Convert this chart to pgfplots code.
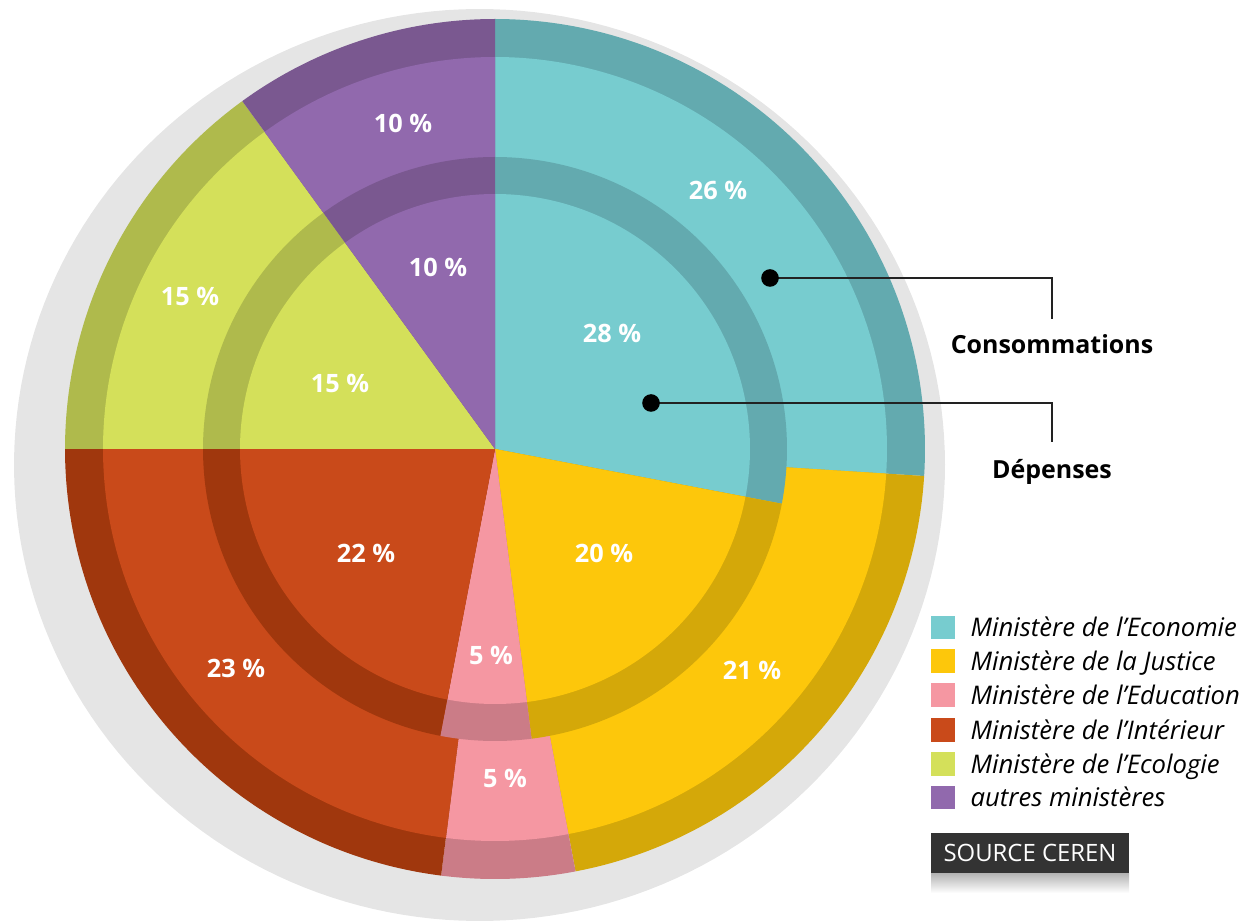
\documentclass[border=0pt]{standalone}
\usepackage{pgfplots}
\pgfplotsset{compat=1.18}
\usepackage{pgfplotstable}
\usepackage{fontspec}
\setmainfont{Open Sans}

\definecolor{c0}{HTML}{77CCCF}\definecolor{c0d}{HTML}{63AAAF}
\definecolor{c1}{HTML}{FDC70B}\definecolor{c1d}{HTML}{D4A809}
\definecolor{c2}{HTML}{F597A2}\definecolor{c2d}{HTML}{CB7C87}
\definecolor{c3}{HTML}{C94A1A}\definecolor{c3d}{HTML}{A0370D}
\definecolor{c4}{HTML}{D4E05A}\definecolor{c4d}{HTML}{AFBA4C}
\definecolor{c5}{HTML}{9169AD}\definecolor{c5d}{HTML}{7A5890}
\definecolor{bg}{HTML}{E5E5E5}
\definecolor{ink}{HTML}{222222}

% inner = Dépenses, outer = Consommations (percent); ix,iy / ox,oy = label positions
\pgfplotstableread{
name inner outer ix iy ox oy
Economie 28 26 612 590 718 733
Justice 20 21 604 370 752 253
Education 5 5 491 268 505 145
Interieur 22 23 366 370 236 255
Ecologie 15 15 340 540 190 627
Autres 10 10 438 656 403 800
}\data

\begin{document}
\begin{tikzpicture}
\begin{axis}[
  width=12.5cm, height=9.23cm, scale only axis,
  xmin=0, xmax=1250, ymin=0, ymax=923,
  hide axis, clip=false,
  /pgf/number format/assume math mode=true,
]
% background disc
\addplot[forget plot, fill=bg, draw=none, domain=0:360, samples=200, variable=\t]
  ({479.5+465.5*cos(\t)},{458+456*sin(\t)}) -- cycle;

% outer ring (Consommations)
\pgfmathsetmacro\cumO{0}
\pgfplotsforeachungrouped \i in {0,...,5}{%
  \pgfplotstablegetelem{\i}{outer}\of\data \let\vO\pgfplotsretval
  \pgfmathsetmacro\aS{90-3.6*\cumO}%
  \pgfmathsetmacro\aE{90-3.6*(\cumO+\vO)}%
  \pgfmathsetmacro\cumO{\cumO+\vO}%
  \edef\cmd{%
   \noexpand\addplot[forget plot, fill=c\i d, draw=none, domain=\aE:\aS, samples=90, variable=\noexpand\t]
     ({495+430*cos(\noexpand\t)},{474+430*sin(\noexpand\t)}) -- (axis cs:495,474) -- cycle;
   \noexpand\addplot[forget plot, fill=c\i, draw=none, domain=\aE:\aS, samples=90, variable=\noexpand\t]
     ({495+392*cos(\noexpand\t)},{474+392*sin(\noexpand\t)}) -- (axis cs:495,474) -- cycle;
  }\cmd
}
% inner pie (Dépenses)
\pgfmathsetmacro\cumI{0}
\pgfplotsforeachungrouped \i in {0,...,5}{%
  \pgfplotstablegetelem{\i}{inner}\of\data \let\vI\pgfplotsretval
  \pgfmathsetmacro\aS{90-3.6*\cumI}%
  \pgfmathsetmacro\aE{90-3.6*(\cumI+\vI)}%
  \pgfmathsetmacro\cumI{\cumI+\vI}%
  \edef\cmd{%
   \noexpand\addplot[forget plot, fill=c\i d, draw=none, domain=\aE:\aS, samples=90, variable=\noexpand\t]
     ({495+292*cos(\noexpand\t)},{474+292*sin(\noexpand\t)}) -- (axis cs:495,474) -- cycle;
   \noexpand\addplot[forget plot, fill=c\i, draw=none, domain=\aE:\aS, samples=90, variable=\noexpand\t]
     ({495+255*cos(\noexpand\t)},{474+255*sin(\noexpand\t)}) -- (axis cs:495,474) -- cycle;
  }\cmd
}

% percentage labels
\addplot[forget plot, only marks, mark=none, point meta=explicit,
  nodes near coords={\pgfmathprintnumber{\pgfplotspointmeta}~\%},
  every node near coord/.append style={anchor=center, text=white, inner sep=0pt,
     font=\bfseries\fontsize{7.2}{8}\selectfont}]
  table[x=ix, y=iy, meta=inner]{\data};
\addplot[forget plot, only marks, mark=none, point meta=explicit,
  nodes near coords={\pgfmathprintnumber{\pgfplotspointmeta}~\%},
  every node near coord/.append style={anchor=center, text=white, inner sep=0pt,
     font=\bfseries\fontsize{7.2}{8}\selectfont}]
  table[x=ox, y=oy, meta=outer]{\data};

% callouts
\addplot[forget plot, ink, line width=0.45pt] coordinates {(770,645) (1052,645) (1052,604)};
\addplot[forget plot, ink, line width=0.45pt] coordinates {(651,520) (1052,520) (1052,481)};
\addplot[forget plot, only marks, mark=*, mark size=2.3pt, black] coordinates {(770,645) (651,520)};
\node[anchor=base, font=\bfseries\fontsize{7.1}{8}\selectfont, text=black, inner sep=0pt] at (axis cs:1052,569) {Consommations};
\node[anchor=base, font=\bfseries\fontsize{7.1}{8}\selectfont, text=black, inner sep=0pt] at (axis cs:1052,444) {Dépenses};

% legend
\addplot[forget plot, only marks, mark=square*, mark size=3.27pt, draw=c0, fill=c0, mark options={draw=c0, fill=c0, line width=0pt}] coordinates {(942.5,295.5)};
\addplot[forget plot, only marks, mark=square*, mark size=3.27pt, draw=c1, fill=c1, mark options={draw=c1, fill=c1, line width=0pt}] coordinates {(942.5,262)};
\addplot[forget plot, only marks, mark=square*, mark size=3.27pt, draw=c2, fill=c2, mark options={draw=c2, fill=c2, line width=0pt}] coordinates {(942.5,228)};
\addplot[forget plot, only marks, mark=square*, mark size=3.27pt, draw=c3, fill=c3, mark options={draw=c3, fill=c3, line width=0pt}] coordinates {(942.5,193)};
\addplot[forget plot, only marks, mark=square*, mark size=3.27pt, draw=c4, fill=c4, mark options={draw=c4, fill=c4, line width=0pt}] coordinates {(942.5,159)};
\addplot[forget plot, only marks, mark=square*, mark size=3.27pt, draw=c5, fill=c5, mark options={draw=c5, fill=c5, line width=0pt}] coordinates {(942.5,125.5)};
\begin{scope}[every node/.style={anchor=base west, inner sep=0pt, font=\itshape\fontsize{7.3}{9}\selectfont, text=black}]
\node at (axis cs:970,286.5) {Ministère de l’Economie};
\node at (axis cs:970,253) {Ministère de la Justice};
\node at (axis cs:970,219) {Ministère de l’Education};
\node at (axis cs:970,184) {Ministère de l’Intérieur};
\node at (axis cs:970,150) {Ministère de l’Ecologie};
\node at (axis cs:970,116.5) {autres ministères};
\end{scope}

% source box
\shade[top color=black!30, bottom color=white] (axis cs:931,50) rectangle (axis cs:1129,30);
\node[fill=black!80, text=white, minimum width=1.98cm, minimum height=0.40cm, inner sep=0pt,
  font=\fontsize{6.8}{8}\selectfont] at (axis cs:1030,70) {SOURCE CEREN};
\end{axis}
\pgfresetboundingbox
\path (current axis.south west) rectangle (current axis.north east);
\end{tikzpicture}
\end{document}
